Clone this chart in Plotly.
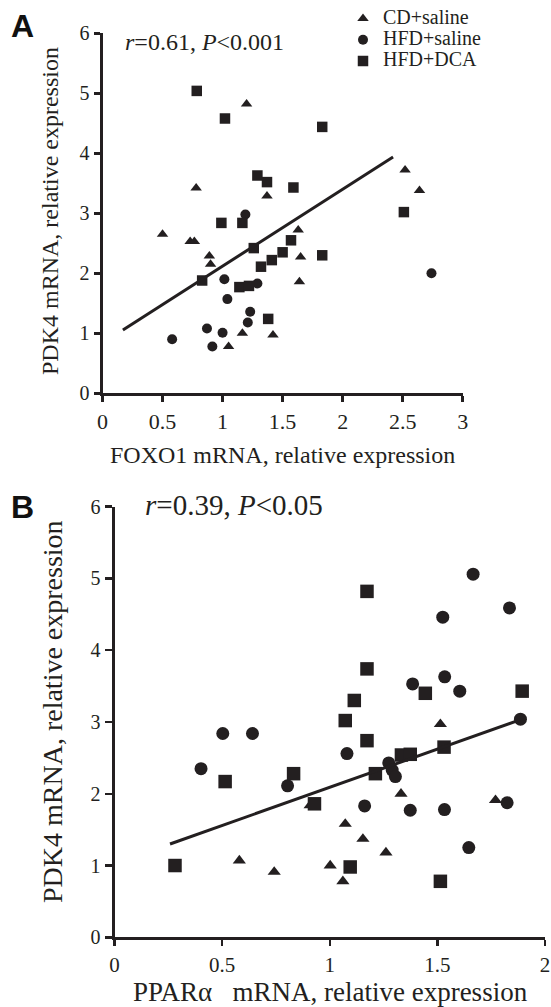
import plotly.graph_objects as go

# ---------------- Panel A data (FOXO1 vs PDK4) ----------------
a_cd_x = [0.50, 0.73, 0.765, 0.78, 0.89, 0.90, 1.05, 1.165, 1.20, 1.37, 1.42, 1.63, 1.65, 1.64, 2.52, 2.64]
a_cd_y = [2.65, 2.53, 2.53, 3.42, 2.29, 2.15, 0.78, 1.00, 4.82, 3.29, 0.97, 2.72, 2.27, 1.86, 3.72, 3.38]

a_hfd_x = [0.58, 0.87, 0.915, 1.00, 1.015, 1.04, 1.19, 1.21, 1.23, 1.29, 2.74]
a_hfd_y = [0.90, 1.08, 0.78, 1.01, 1.90, 1.57, 2.98, 1.18, 1.36, 1.83, 2.00]

a_dca_x = [0.785, 1.02, 1.29, 1.37, 1.59, 1.83, 2.51, 0.99, 1.165, 1.26, 0.83, 1.14, 1.22, 1.32, 1.41, 1.50, 1.57, 1.38, 1.83]
a_dca_y = [5.04, 4.58, 3.63, 3.52, 3.43, 4.44, 3.02, 2.84, 2.84, 2.42, 1.88, 1.77, 1.79, 2.11, 2.22, 2.35, 2.55, 1.24, 2.30]

a_fit_x = [0.17, 2.42]
a_fit_y = [1.055, 3.94]

# ---------------- Panel B data (PPARa vs PDK4) ----------------
b_cd_x = [0.58, 0.742, 0.909, 1.002, 1.061, 1.072, 1.154, 1.261, 1.331, 1.514, 1.770]
b_cd_y = [1.07, 0.91, 1.84, 1.00, 0.78, 1.58, 1.37, 1.18, 2.00, 2.97, 1.91]

b_hfd_x = [0.402, 0.503, 0.641, 0.804, 1.080, 1.162, 1.274, 1.290, 1.305, 1.374, 1.385, 1.525, 1.534, 1.533, 1.604, 1.646, 1.666, 1.824, 1.835, 1.886]
b_hfd_y = [2.35, 2.84, 2.84, 2.11, 2.56, 1.83, 2.43, 2.33, 2.24, 1.77, 3.53, 4.46, 3.63, 1.78, 3.43, 1.25, 5.06, 1.875, 4.59, 3.04]

b_dca_x = [0.281, 0.514, 0.832, 0.929, 1.072, 1.095, 1.114, 1.173, 1.173, 1.173, 1.212, 1.333, 1.374, 1.444, 1.514, 1.531, 1.894]
b_dca_y = [1.00, 2.17, 2.28, 1.86, 3.02, 0.98, 3.30, 4.82, 3.74, 2.74, 2.28, 2.54, 2.55, 3.40, 0.78, 2.65, 3.43]

b_fit_x = [0.258, 1.883]
b_fit_y = [1.30, 3.03]

group_names = ["CD+saline", "HFD+saline", "HFD+DCA"]
a_ticks_x = [0, 0.5, 1, 1.5, 2, 2.5, 3]
b_ticks_x = [0, 0.5, 1, 1.5, 2]
ticks_y = [0, 1, 2, 3, 4, 5, 6]

INK = "#231f20"
SERIF = "Liberation Serif, Times New Roman, serif"
SANS = "Liberation Sans, Arial, sans-serif"
W, H = 551, 1007

fig = go.Figure()

def add_panel(xs, ys, fit_x, fit_y, xa, ya, sizes, legend):
    symbols = ["triangle-up", "circle", "square"]
    for (x, y), sym, sz, name in zip(zip(xs, ys), symbols, sizes, group_names):
        fig.add_trace(go.Scatter(
            x=x, y=y, mode="markers", xaxis=xa, yaxis=ya,
            name=f'<span style="font-size:20px">{name}</span>',
            marker=dict(symbol=sym, size=sz, color=INK, line=dict(width=0)),
            showlegend=legend, cliponaxis=False))
    fig.add_trace(go.Scatter(
        x=fit_x, y=fit_y, mode="lines", xaxis=xa, yaxis=ya, showlegend=False,
        line=dict(color=INK, width=3)))

add_panel([a_cd_x, a_hfd_x, a_dca_x], [a_cd_y, a_hfd_y, a_dca_y], a_fit_x, a_fit_y,
          "x", "y", [10, 10, 10.5], True)
add_panel([b_cd_x, b_hfd_x, b_dca_x], [b_cd_y, b_hfd_y, b_dca_y], b_fit_x, b_fit_y,
          "x2", "y2", [11.5, 13, 13.5], False)

def px_x(p):
    return p / W

def px_y(p):
    return 1 - p / H

axis_common = dict(showline=True, linecolor=INK, linewidth=3, ticks="outside",
                   tickcolor=INK, tickwidth=2.5, showgrid=False, zeroline=False,
                   mirror=False, automargin=False)

fig.update_layout(
    template="none",
    width=W, height=H, margin=dict(l=0, r=0, t=0, b=0, pad=0, autoexpand=False),
    paper_bgcolor="white", plot_bgcolor="white",
    font=dict(family=SERIF, color=INK),
    xaxis=dict(domain=[px_x(102.5), px_x(462.7)], range=[0, 3], tickvals=a_ticks_x,
               ticktext=[f"{v:g}" for v in a_ticks_x], ticklen=6,
               tickfont=dict(size=22, family=SERIF, color=INK), anchor="y", **axis_common),
    yaxis=dict(domain=[px_y(393.3), px_y(33.3)], range=[0, 6], tickvals=ticks_y,
               ticklen=6, tickfont=dict(size=20, family=SERIF, color=INK), anchor="x",
               **axis_common),
    xaxis2=dict(domain=[px_x(114.5), px_x(545)], range=[0, 2], tickvals=b_ticks_x,
                ticktext=[f"{v:g}" for v in b_ticks_x], ticklen=6,
                tickfont=dict(size=21, family=SERIF, color=INK), anchor="y2", **axis_common),
    yaxis2=dict(domain=[px_y(937.3), px_y(506.7)], range=[0, 6], tickvals=ticks_y,
                ticklen=7, tickfont=dict(size=20, family=SERIF, color=INK), anchor="x2",
                **axis_common),
    legend=dict(x=px_x(343), y=px_y(3), xanchor="left", yanchor="top",
                font=dict(size=14, family=SERIF, color=INK), bgcolor="rgba(0,0,0,0)",
                tracegroupgap=0, itemclick=False),
    showlegend=True,
)

ann = [
    dict(text="<b>A</b>", x=px_x(22), y=px_y(26), font=dict(size=32, family=SANS, color="#111")),
    dict(text="<b>B</b>", x=px_x(22), y=px_y(507), font=dict(size=32, family=SANS, color="#111")),
    dict(text="<i>r</i>=0.61, <i>P</i><0.001", x=px_x(204), y=px_y(42), font=dict(size=24)),
    dict(text="<i>r</i>=0.39, <i>P</i><0.05", x=px_x(234), y=px_y(505), font=dict(size=29)),
    dict(text="FOXO1 mRNA, relative expression", x=px_x(282.5), y=px_y(455), font=dict(size=24)),
    dict(text="PDK4 mRNA, relative expression", x=px_x(50), y=px_y(211), textangle=-90,
         font=dict(size=24)),
    dict(text="PPARα\u00a0\u00a0\u00a0mRNA, relative expression", x=px_x(330), y=px_y(991.5),
         font=dict(size=27)),
    dict(text="PDK4 mRNA, relative expression", x=px_x(52), y=px_y(712), textangle=-90,
         font=dict(size=28)),
]
for a in ann:
    a.update(xref="paper", yref="paper", showarrow=False, xanchor="center", yanchor="middle")
    a.setdefault("font", {})
    a["font"].setdefault("family", SERIF)
    a["font"].setdefault("color", INK)
fig.update_layout(annotations=ann)

# remove the browser's default body margin so the figure fills the window exactly
fig.write_html("out.html", config={"displayModeBar": False, "staticPlot": True},
               post_script="document.body.style.margin='0px';")
